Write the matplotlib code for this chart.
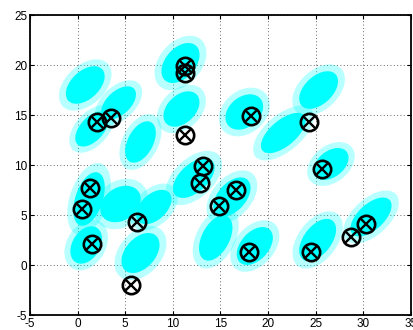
import matplotlib
matplotlib.use("Agg")
import matplotlib.pyplot as plt
from matplotlib.patches import Ellipse

# Cyan point clouds: centre x, centre y, half-length major, half-length minor, angle (deg)
cloud_x = [0.8, 4.3, 1.5, 6.6, 10.8, 10.9, 17.5, 21.6, 25.3, 26.6, 1.2, 4.5, 8.0, 0.9, 6.6, 12.2, 16.2, 14.5, 18.6, 25.2, 30.8]
cloud_y = [18.0, 16.2, 13.6, 12.3, 20.2, 15.6, 15.3, 13.2, 17.5, 10.1, 6.6, 6.1, 5.8, 2.0, 1.2, 8.7, 6.8, 2.7, 1.9, 2.5, 4.8]
cloud_a = [2.2, 2.0, 2.0, 2.1, 2.2, 2.0, 2.0, 2.6, 2.2, 1.9, 2.6, 2.1, 2.0, 1.9, 2.2, 2.4, 2.2, 2.3, 2.1, 2.3, 2.4]
cloud_b = [1.3, 1.1, 1.1, 1.2, 1.4, 1.3, 1.4, 1.2, 1.3, 1.2, 1.3, 1.5, 1.2, 1.3, 1.4, 1.3, 1.3, 1.3, 1.3, 1.3, 1.2]
cloud_ang = [40, 40, 45, 60, 45, 40, 35, 38, 40, 35, 70, 30, 40, 55, 45, 40, 45, 60, 45, 50, 40]

# Cluster centres (circle-x markers)
cent_x = [11.3, 11.3, 2.05, 3.55, 11.3, 18.2, 24.3, 25.7, 13.2, 12.9, 16.6, 14.85, 1.3, 0.5, 6.2, 1.5, 5.65, 18.0, 24.5, 28.75, 30.3]
cent_y = [19.9, 19.2, 14.3, 14.7, 13.0, 14.9, 14.3, 9.6, 9.95, 8.25, 7.5, 5.95, 7.75, 5.6, 4.3, 2.1, -2.0, 1.3, 1.3, 2.8, 4.15]

x_ticks = [-5, 0, 5, 10, 15, 20, 25, 30, 35]
y_ticks = [-5, 0, 5, 10, 15, 20, 25]

plt.rcParams['font.family'] = ['Liberation Sans', 'DejaVu Sans']

fig = plt.figure(figsize=(4.14, 3.30), dpi=100)
ax = fig.add_axes([30 / 414, 15 / 330, 381 / 414, 300 / 330])

cyan = (0.0, 1.0, 1.0)
for cx, cy, a, b, ang in zip(cloud_x, cloud_y, cloud_a, cloud_b, cloud_ang):
    ax.add_patch(Ellipse((cx, cy), 2 * a * 1.45, 2 * b * 1.55, angle=ang,
                         facecolor=cyan, edgecolor='none', alpha=0.28, zorder=2))
    ax.add_patch(Ellipse((cx, cy), 2 * a * 1.08, 2 * b * 1.1, angle=ang,
                         facecolor=cyan, edgecolor='none', alpha=1.0, zorder=2))

ax.plot(cent_x, cent_y, linestyle='none', marker='o', markersize=12.5,
        markerfacecolor='none', markeredgecolor='black', markeredgewidth=1.9, zorder=4)
ax.plot(cent_x, cent_y, linestyle='none', marker='x', markersize=8.5,
        markeredgecolor='black', markeredgewidth=1.7, zorder=4)

ax.set_xlim(-5, 35)
ax.set_ylim(-5, 25)
ax.set_xticks(x_ticks)
ax.set_yticks(y_ticks)
ax.set_xticklabels([str(t) for t in x_ticks])
ax.set_yticklabels([str(t) for t in y_ticks])
ax.grid(True, linestyle=(0, (1, 3)), color='#333333', linewidth=0.6, zorder=1)
ax.set_axisbelow(True)
ax.tick_params(direction='in', length=3, width=0.8, labelsize=8.5, pad=2,
               top=True, right=True)
for s in ax.spines.values():
    s.set_linewidth(1.3)
    s.set_color('black')

fig.savefig('out.png', dpi=100)
